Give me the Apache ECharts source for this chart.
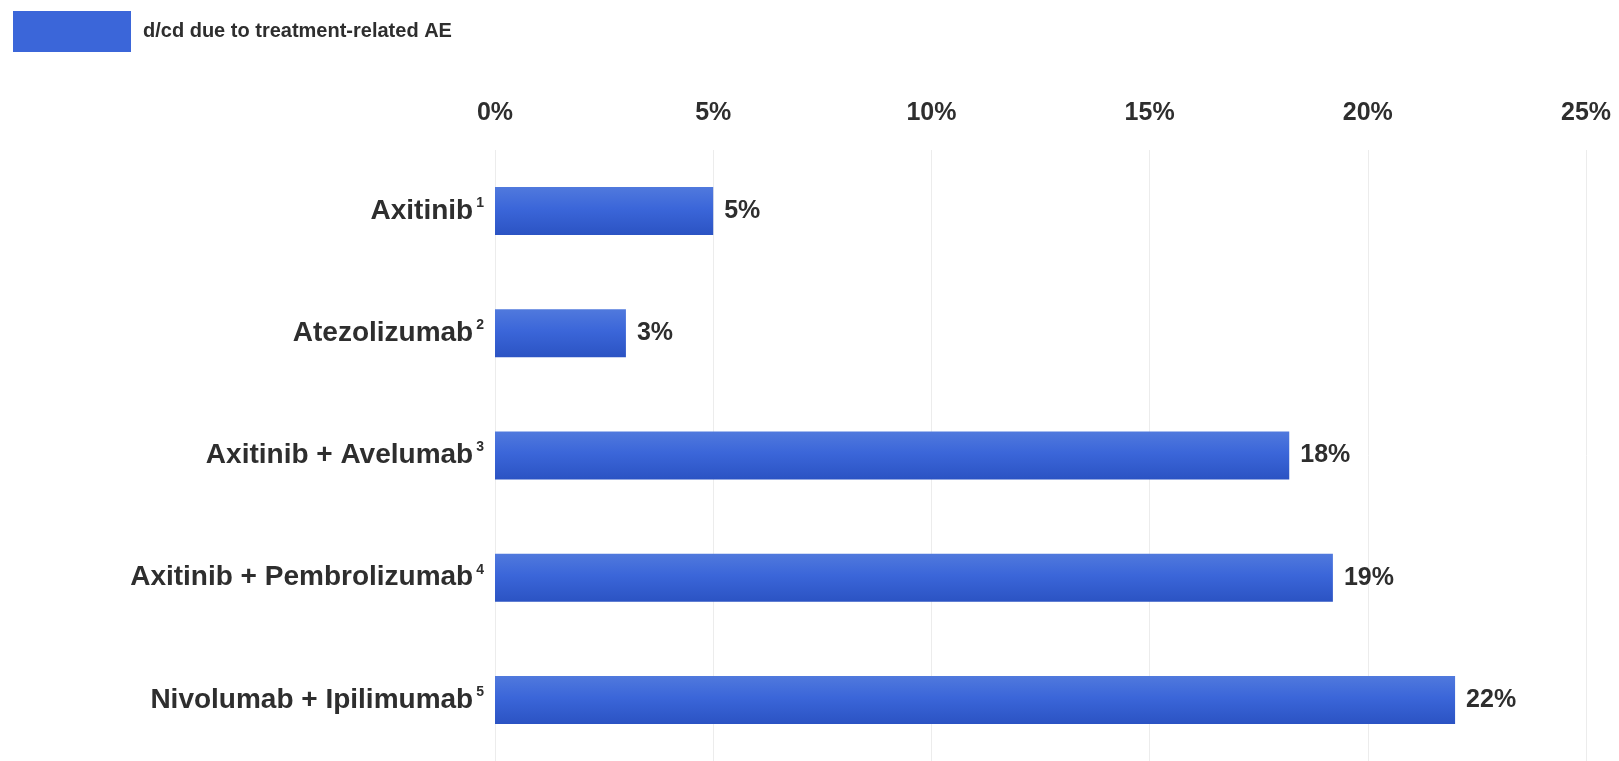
<!DOCTYPE html>
<html>
<head>
<meta charset="utf-8">
<style>
  html, body { margin: 0; padding: 0; background: #fff; }
  #chart { width: 1619px; height: 761px; }
</style>
<script src="https://cdn.jsdelivr.net/npm/echarts@6/dist/echarts.min.js"></script>
</head>
<body>
<div id="chart"></div>
<script>
// 数据
const categories = ['Axitinib', 'Atezolizumab', 'Axitinib + Avelumab', 'Axitinib + Pembrolizumab', 'Nivolumab + Ipilimumab'];
const refs = ['1', '2', '3', '4', '5'];
const dcdValues = [5, 3, 18.2, 19.2, 22];
const seriesName = 'd/cd due to treatment-related AE';

const textColor = '#2e2e2e';
const font = '"Liberation Sans", Arial, sans-serif';

const chart = echarts.init(document.getElementById('chart'));

const barColor = new echarts.graphic.LinearGradient(0, 0, 0, 1, [
  { offset: 0, color: '#5079dd' },
  { offset: 0.45, color: '#3b66d9' },
  { offset: 1, color: '#2b53c3' }
]);

const option = {
  backgroundColor: '#fff',
  animation: false,
  legend: {
    data: [{ name: seriesName, icon: 'rect' }],
    left: 8,
    top: 6,
    itemWidth: 118,
    itemHeight: 41,
    itemStyle: { color: '#3b66d9' },
    textStyle: {
      color: textColor,
      fontFamily: font,
      fontWeight: 'bold',
      fontSize: 20,
      padding: [0, 0, 0, 7]
    }
  },
  grid: {
    left: 495,
    right: 33,
    top: 150,
    bottom: -2,
    containLabel: false
  },
  xAxis: {
    type: 'value',
    position: 'top',
    min: 0,
    max: 25,
    interval: 5,
    axisLine: { show: false },
    axisTick: { show: false },
    splitLine: { lineStyle: { color: '#ececec', width: 1 } },
    axisLabel: {
      formatter: '{value}%',
      margin: 24,
      color: textColor,
      fontFamily: font,
      fontWeight: 'bold',
      fontSize: 25
    }
  },
  yAxis: {
    type: 'category',
    inverse: true,
    data: categories,
    axisLine: { show: false },
    axisTick: { show: false },
    axisLabel: {
      margin: 11,
      formatter: function (value, idx) {
        return '{a|' + value + '}{s|' + refs[idx] + '}';
      },
      rich: {
        a: {
          color: textColor,
          fontFamily: font,
          fontWeight: 'bold',
          fontSize: 28,
          lineHeight: 30
        },
        s: {
          color: textColor,
          fontFamily: font,
          fontWeight: 'bold',
          fontSize: 14,
          verticalAlign: 'top',
          padding: [0, 0, 16, 3]
        }
      }
    }
  },
  series: [
    {
      name: seriesName,
      type: 'bar',
      data: dcdValues,
      barWidth: 48,
      itemStyle: { color: barColor },
      label: {
        show: true,
        position: 'right',
        distance: 11,
        formatter: p => Math.round(p.value) + '%',
        color: textColor,
        fontFamily: font,
        fontWeight: 'bold',
        fontSize: 25
      }
    }
  ]
};

chart.setOption(option);
window.addEventListener('resize', () => chart.resize());
</script>
</body>
</html>
